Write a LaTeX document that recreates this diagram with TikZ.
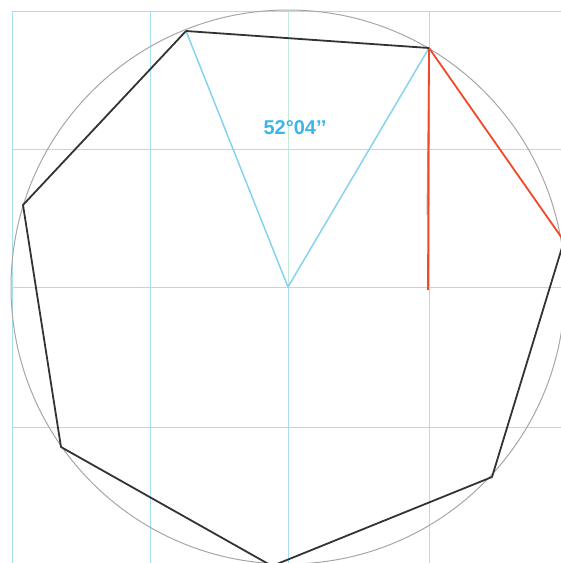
\documentclass[tikz,border=0pt]{standalone}
\usepackage{fontspec}
\setmainfont{Liberation Sans}
\usepackage{tikz}
\usetikzlibrary{calc}
\definecolor{hepGrid}{HTML}{A8E0F2}
\definecolor{hepAxis}{HTML}{C4EAD8}
\definecolor{hepRay}{HTML}{86D3EF}
\definecolor{hepText}{HTML}{3DB5E8}
\definecolor{hepRed}{HTML}{F2482A}
\definecolor{hepEdge}{HTML}{333333}
\definecolor{hepCircle}{HTML}{A6A6A6}
\tikzset{
  hepgrid/.style={draw=hepGrid,line width=1pt},
  hepcircle/.style={draw=hepCircle,line width=1pt},
  hepedge/.style={draw=hepEdge,line width=1.8pt,line join=round},
  hepray/.style={draw=hepRay,line width=1.5pt},
  hepred/.style={draw=hepRed,line width=1.8pt},
  hepguide/.style={draw=hepCircle,line width=1pt},
  heplbl/.style={font=\fontsize{20}{22}\selectfont\bfseries,text=hepText,inner sep=0pt},
}
\begin{document}
\begin{tikzpicture}[x=1pt,y=-1pt]
  \useasboundingbox (0,0) rectangle (561,563);
  % grid
  \foreach \gx in {12,150,429}{\draw[hepgrid] (\gx,11) -- (\gx,563);}
  \draw[hepgrid] (288,287) -- (288,563);
  \draw[hepgrid,draw=hepAxis] (288,11) -- (288,287);
  \foreach \gy in {11,149,287,427}{\draw[hepgrid] (12,\gy) -- (561,\gy);}

  % circumscribed circle
  \coordinate (O) at (288,287);
  \draw[hepcircle] (O) circle (277);

  % heptagon corners
  \coordinate (V1) at (186,31);
  \coordinate (V2) at (429,48);
  \coordinate (V3) at (564,241);
  \coordinate (V4) at (492,477);
  \coordinate (V5) at (272,566);
  \coordinate (V6) at (61,447);
  \coordinate (V7) at (23,205);
  \coordinate (Vb) at (428,290);
  \coordinate (Vg) at (427,215);

  \draw[hepray] (V1) -- (O) -- (V2);
  \draw[hepguide] (V2) -- (Vg);
  \draw[hepred] (V2) -- (Vb);
  \draw[hepred] (V2) -- (V3);
  \draw[hepedge] (V1) -- (V2) (V3) -- (V4) -- (V5) -- (V6) -- (V7) -- (V1);

  \node[heplbl] (ang) at (295,128) {52°04’’};
\end{tikzpicture}
\end{document}
